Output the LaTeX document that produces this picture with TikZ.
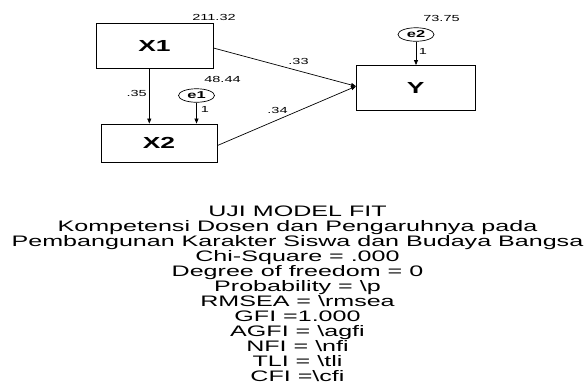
\documentclass[tikz,border=0pt]{standalone}
\usepackage{fontspec}
\setmainfont{Liberation Sans}
\newfontfamily\wf[FakeStretch=1.65]{Liberation Sans}
\usetikzlibrary{shapes.geometric,arrows.meta}
\begin{document}
\begin{tikzpicture}[x=1pt,y=-1pt,
  box/.style={draw,line width=0.9pt,inner sep=0pt,font=\wf\bfseries\fontsize{16}{16}\selectfont},
  err/.style={draw,ellipse,line width=0.7pt,inner sep=0pt,minimum width=36pt,minimum height=13.5pt,font=\wf\bfseries\fontsize{10}{10}\selectfont},
  num/.style={inner sep=0pt,font=\wf\fontsize{8.8}{8.8}\selectfont},
  arr/.style={line width=0.7pt,-{Triangle[length=5pt,width=4pt]}},
  fitline/.style={inner sep=0pt,anchor=base,font=\wf\fontsize{15.2}{15}\selectfont}]
\fill[white] (0,0) rectangle (588,384);
\useasboundingbox (0,0) rectangle (588,384);

% boxes
\node[box,minimum width=117pt,minimum height=45pt] (x1) at (154.5,46) {X1};
\node[box,minimum width=116pt,minimum height=38pt] (x2) at (159,143) {X2};
\node[box,minimum width=118.5pt,minimum height=44.5pt] (y) at (415.75,87.75) {Y};

% error terms
\node[err] (e1) at (196.5,95.5) {e1};
\node[err] (e2) at (416,34.5) {e2};

% connectors
\coordinate (c1) at (149.3,0);
\draw[arr] (x1.south -| c1) -- (x2.north -| c1);
\draw[arr] (e1.south) -- (e1.south |- x2.north);
\draw[arr] (e2.south) -- (e2.south |- y.north);
\draw[arr] ([yshift=-2pt]x1.east) -- ([yshift=1.5pt]y.west);
\draw[arr] ([yshift=-2.5pt]x2.east) -- ([yshift=1.5pt]y.west);

% labels
\node[num] (v1) at (214,17.5) {211.32};
\node[num] (v2) at (441.5,18.3) {73.75};
\node[num] (v3) at (222.5,79) {48.44};
\node[num] (p1) at (136.7,93.3) {.35};
\node[num] (p2) at (298.5,61) {.33};
\node[num] (p3) at (277.5,110.5) {.34};
\node[num] (w1) at (205,109) {1};
\node[num] (w2) at (423,51.7) {1};

% fit text
\foreach \txt [count=\i] in {
  UJI MODEL FIT,
  Kompetensi Dosen dan Pengaruhnya pada,
  Pembangunan Karakter Siswa dan Budaya Bangsa,
  Chi-Square = .000,
  Degree of freedom = 0,
  Probability = \textbackslash p,
  RMSEA = \textbackslash rmsea,
  GFI =1.000,
  AGFI = \textbackslash agfi,
  NFI = \textbackslash nfi,
  TLI = \textbackslash tli,
  CFI =\textbackslash cfi}
  \node[fitline] (t\i) at (297.5,{216.3+15.0*(\i-1)}) {\txt};
\end{tikzpicture}
\end{document}
